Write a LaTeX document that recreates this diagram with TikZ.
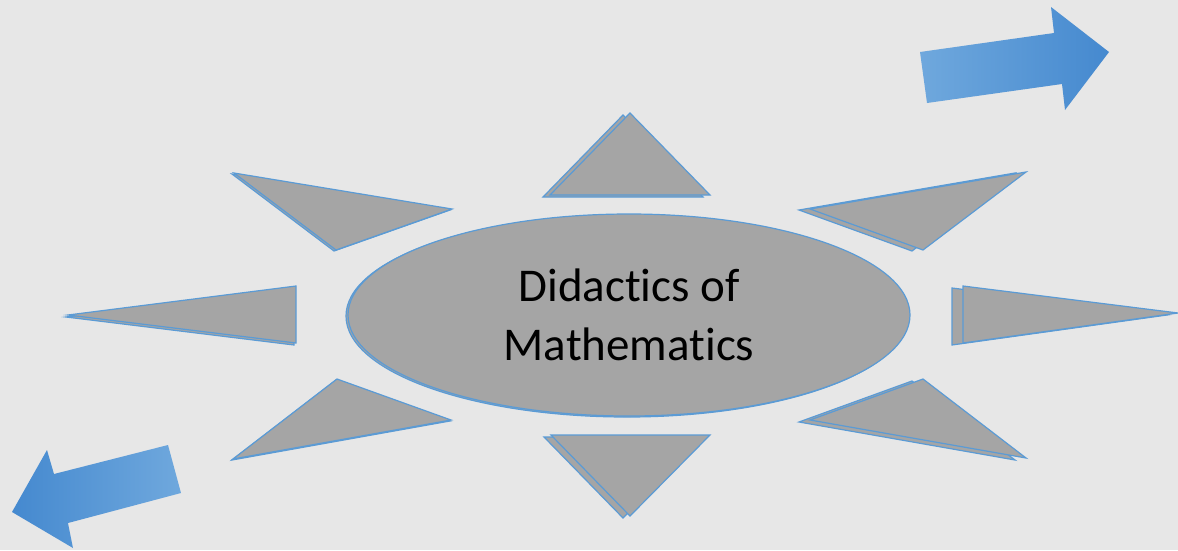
\documentclass[tikz,border=0pt]{standalone}
\usepackage{fontspec}
\setmainfont{Carlito}[Ligatures={NoCommon,NoRare}]
\usepackage{xcolor}
\definecolor{fondoGris}{HTML}{E7E7E7}
\definecolor{grisForma}{HTML}{A5A5A5}
\definecolor{azulBorde}{HTML}{5B9BD5}
\definecolor{azulClaro}{HTML}{6FA8DD}
\definecolor{azulOscuro}{HTML}{4589CF}
\usepackage{tikz}
\usetikzlibrary{shapes.geometric}

\begin{document}
\begin{tikzpicture}[x=1pt,y=-1pt,
    rayo/.style={fill=grisForma,draw=azulBorde,line width=1.2pt,line join=miter},
    nucleo/.style={ellipse,fill=grisForma,draw=azulBorde,line width=1.2pt,
      minimum width=562pt,minimum height=202pt,inner sep=0pt,align=center,
      font=\fontsize{47}{59}\selectfont}]
  \useasboundingbox (0,0) rectangle (1178,550);
  \fill[fondoGris] (0,0) rectangle (1178,550);
  % rayos: sombra desplazada y luego el triangulo
  \foreach \ax/\ay/\bx/\by/\cx/\cy/\dx/\dy in {
      630/113/550/195/710/195/-7/2,
      810/209/1026/172/923/250/-11/1,
      963/286/1178/313/963/343/-11/2,
      810/420/923/379/1026/458/-11/2,
      551/435/710/435/630/516/-7/2,
      337/379/451/420/233/459/-1/1,
      68/315/296/286/296/343/-2/2,
      234/173/452/209/336/250/-2/1}{
    \draw[rayo,shift={(\dx,\dy)}] (\ax,\ay)--(\bx,\by)--(\cx,\cy)--cycle;
    \draw[rayo] (\ax,\ay)--(\bx,\by)--(\cx,\cy)--cycle;
  }
  \draw[fill=grisForma,draw=azulBorde,line width=1.2pt] (627,316)
    ellipse [x radius=281pt,y radius=101pt];
  \node[nucleo] (didactica) at (629,315) {Didactics of\\Mathematics};
  % flechas
  \shade[left color=azulClaro,right color=azulOscuro]
    (920,52)--(1054,33)--(1051,7)--(1109,52)--(1065,110)--(1062,84)--(927,103)--cycle;
  \shade[left color=azulOscuro,right color=azulClaro]
    (168,445)--(54,474)--(47,450)--(12,512)--(73,548)--(68,523)--(181,493)--cycle;
\end{tikzpicture}
\end{document}
